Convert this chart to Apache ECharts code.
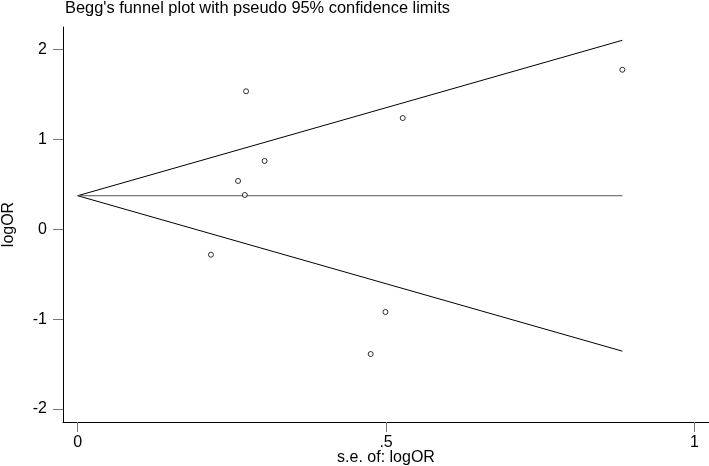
<!DOCTYPE html>
<html>
<head>
<meta charset="utf-8">
<script src="https://cdn.jsdelivr.net/npm/echarts@6/dist/echarts.min.js"></script>
<style>
  html, body { margin: 0; padding: 0; background: #fff; }
  #chart { width: 709px; height: 466px; }
</style>
</head>
<body>
<div id="chart"></div>
<script>
// studies: standard error and log odds ratio
const seValues = [0.273, 0.303, 0.260, 0.271, 0.216, 0.527, 0.883, 0.499, 0.475];
const logOR = [1.537, 0.761, 0.538, 0.382, -0.283, 1.239, 1.777, -0.921, -1.389];

// pseudo 95% limits at se = 0 and se = max
const limitSe = [0, 0.883];
const centerLine = [0.374, 0.374];
const upperLimit = [0.374, 2.105];
const lowerLimit = [0.374, -1.357];

const xTicks = [0, 0.5, 1];
const yTicks = [-2, -1, 0, 1, 2];

const font = 'Liberation Sans, Arial, sans-serif';

function pairs(xs, ys) {
  return xs.map((x, i) => [x, ys[i]]);
}

function lineSeries(ys, color) {
  return {
    type: 'line',
    data: pairs(limitSe, ys),
    symbol: 'none',
    silent: true,
    lineStyle: { color: color, width: 1 },
    z: 1
  };
}

const chart = echarts.init(document.getElementById('chart'), null, { renderer: 'canvas' });

chart.setOption({
  animation: false,
  backgroundColor: '#fff',
  title: {
    text: "Begg's funnel plot with pseudo 95% confidence limits",
    left: 65,
    top: 0,
    padding: 0,
    textStyle: { fontFamily: font, fontSize: 16.4, fontWeight: 'normal', color: '#000' }
  },
  grid: { left: 63, top: 27, right: 0, bottom: 44, outerBoundsMode: 'none' },
  xAxis: {
    type: 'value',
    min: -0.0238,
    max: 1.0235,
    name: 's.e. of: logOR',
    nameLocation: 'middle',
    nameGap: 27.5,
    nameMoveOverlap: false,
    nameTextStyle: { fontFamily: font, fontSize: 16, color: '#000' },
    splitLine: { show: false },
    axisLine: { onZero: false, lineStyle: { color: '#000', width: 1 } },
    axisTick: { customValues: xTicks, length: 10, lineStyle: { color: '#777' } },
    axisLabel: {
      customValues: xTicks,
      margin: 13,
      fontFamily: font,
      fontSize: 16,
      color: '#000',
      formatter: v => String(v).replace(/^0\./, '.')
    }
  },
  yAxis: {
    type: 'value',
    min: -2.146,
    max: 2.253,
    name: 'logOR',
    nameLocation: 'middle',
    nameGap: 46,
    nameMoveOverlap: false,
    nameTextStyle: { fontFamily: font, fontSize: 16, color: '#000' },
    splitLine: { show: false },
    axisLine: { show: true, onZero: false, lineStyle: { color: '#000', width: 1 } },
    axisTick: { show: true, customValues: yTicks, length: 10, lineStyle: { color: '#777' } },
    axisLabel: {
      customValues: yTicks,
      margin: 16,
      fontFamily: font,
      fontSize: 16,
      color: '#000'
    }
  },
  series: [
    lineSeries(upperLimit, '#000'),
    lineSeries(lowerLimit, '#000'),
    lineSeries(centerLine, '#555'),
    {
      type: 'scatter',
      data: pairs(seValues, logOR),
      symbol: 'circle',
      symbolSize: 5,
      itemStyle: { color: '#fff', borderColor: '#000', borderWidth: 1 },
      z: 3
    }
  ]
});
</script>
</body>
</html>
